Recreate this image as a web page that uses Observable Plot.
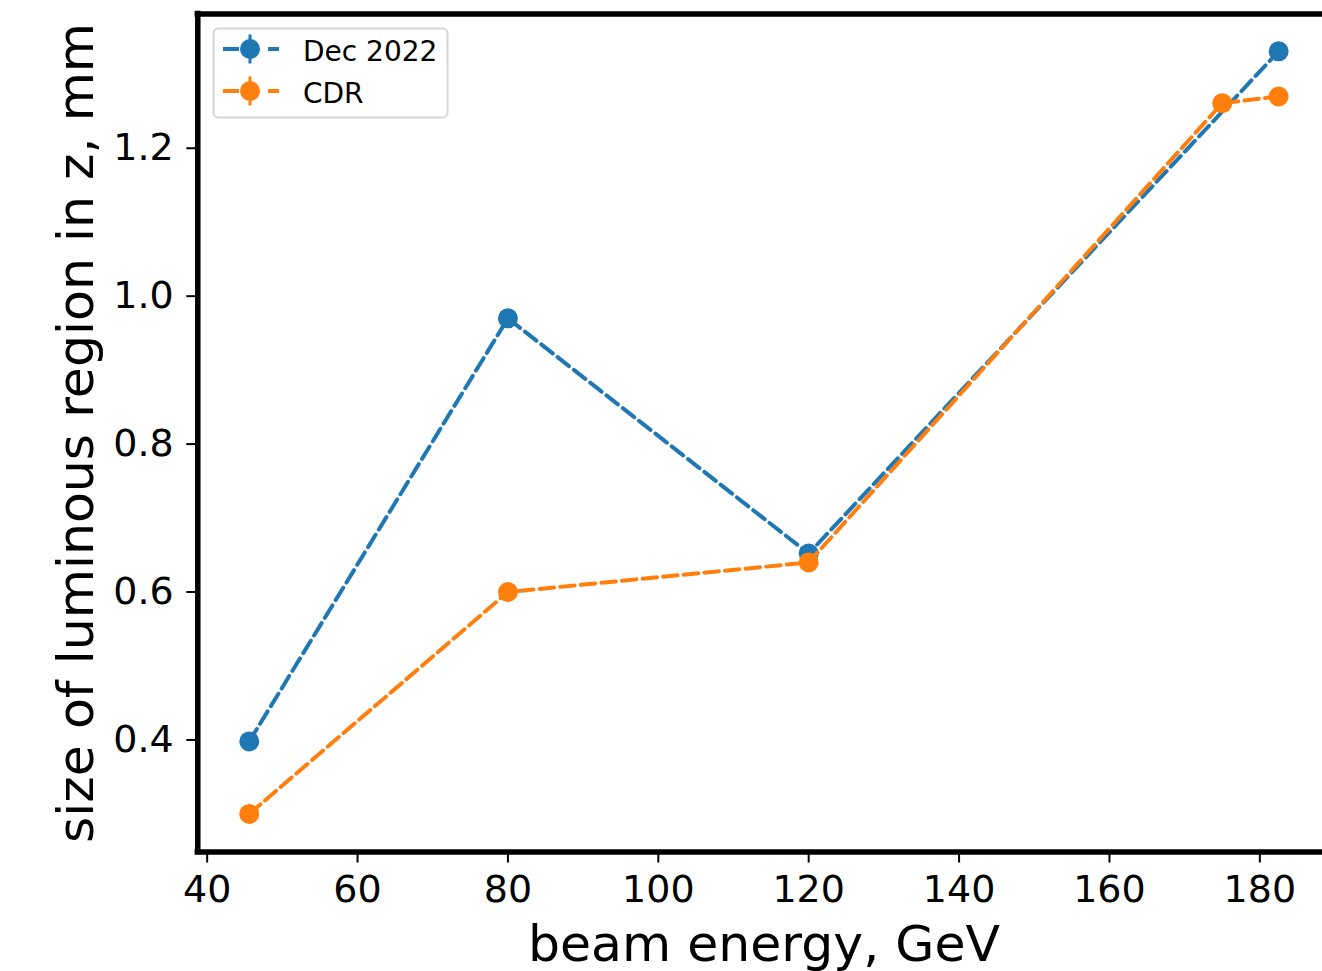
<!DOCTYPE html>
<html>
<head>
<meta charset="utf-8">
<script src="https://cdn.jsdelivr.net/npm/d3@7"></script>
<script src="https://cdn.jsdelivr.net/npm/@observablehq/plot@0.6"></script>
<style>
  html, body { margin: 0; padding: 0; background: #fff; }
  #wrap { position: relative; width: 1322px; height: 971px; overflow: hidden; font-family: "DejaVu Sans", sans-serif; }
  #legend { position: absolute; left: 0; top: 0; }
</style>
</head>
<body>
<div id="wrap"></div>
<script>
// ---- data ----
const energyDec = [45.6, 80, 120, 182.5];
const sizeDec   = [0.398, 0.970, 0.652, 1.331];
const energyCdr = [45.6, 80, 120, 175, 182.5];
const sizeCdr   = [0.300, 0.600, 0.640, 1.261, 1.270];
const seriesNames = ["Dec 2022", "CDR"];
const seriesColors = ["#1f77b4", "#ff7f0e"];
const xTicks = [40, 60, 80, 100, 120, 140, 160, 180];
const yTicks = [0.4, 0.6, 0.8, 1.0, 1.2];
const xLabel = "beam energy, GeV";
const yLabel = "size of luminous region in z, mm";

const dec = energyDec.map((e, i) => ({energy: e, size: sizeDec[i], series: seriesNames[0]}));
const cdr = energyCdr.map((e, i) => ({energy: e, size: sizeCdr[i], series: seriesNames[1]}));

const xDomain = [38.755, 189.345];
const yDomain = [0.2485, 1.3815];
const W = 1322, H = 971;
const mL = 197.3, mT = 13.5, mB = 119.5;
const dash = "14.5,6.2";
const lw = 4;

const chart = Plot.plot({
  width: W, height: H,
  marginLeft: mL, marginRight: 0, marginTop: mT, marginBottom: mB,
  style: {fontFamily: "DejaVu Sans, sans-serif", background: "white", color: "black"},
  x: {domain: xDomain, range: [mL, 1329.6]},
  y: {domain: yDomain},
  marks: [
    Plot.lineY(dec, {x: "energy", y: "size", stroke: seriesColors[0], strokeWidth: lw, strokeDasharray: dash}),
    Plot.dot(dec, {x: "energy", y: "size", r: 10, fill: seriesColors[0], stroke: null}),
    Plot.lineY(cdr, {x: "energy", y: "size", stroke: seriesColors[1], strokeWidth: lw, strokeDasharray: dash}),
    Plot.dot(cdr, {x: "energy", y: "size", r: 10, fill: seriesColors[1], stroke: null}),
    Plot.axisX({ticks: xTicks, tickSize: 11, tickPadding: 12, fontSize: 38, strokeWidth: 2, label: null, tickFormat: d3.format("d")}),
    Plot.axisY({ticks: yTicks, tickSize: 11, tickPadding: 13, fontSize: 38, strokeWidth: 2, label: null, tickFormat: d3.format(".1f")}),
    Plot.ruleY([yDomain[0], yDomain[1]], {stroke: "black", strokeWidth: 5.5, strokeLinecap: "square"}),
    Plot.ruleX([xDomain[0]], {stroke: "black", strokeWidth: 5.5, strokeLinecap: "square"}),
    Plot.text([xLabel], {x: () => (xDomain[0] + xDomain[1]) / 2, frameAnchor: "bottom", lineAnchor: "bottom", textAnchor: "middle", dy: 108.5, fontSize: 50.5, fill: "black"}),
    Plot.text([yLabel], {frameAnchor: "left", rotate: -90, lineAnchor: "bottom", textAnchor: "middle", dx: -105, fontSize: 50.5, fill: "black"})
  ]
});
document.getElementById("wrap").appendChild(chart);

// ---- legend ----
const leg = d3.select("#wrap").append("svg").attr("id", "legend").attr("width", W).attr("height", H);
leg.append("rect").attr("x", 213.5).attr("y", 28.5).attr("width", 234).attr("height", 89)
  .attr("rx", 5).attr("fill", "white").attr("fill-opacity", 0.8).attr("stroke", "#d6d6d6").attr("stroke-width", 2);
seriesNames.forEach((name, i) => {
  const cy = 49 + i * 42;
  const g = leg.append("g");
  g.append("line").attr("x1", 223).attr("x2", 279).attr("y1", cy).attr("y2", cy)
    .attr("stroke", seriesColors[i]).attr("stroke-width", lw).attr("stroke-dasharray", "16,29,11");
  g.append("line").attr("x1", 250).attr("x2", 250).attr("y1", cy - 14.5).attr("y2", cy + 14.5)
    .attr("stroke", seriesColors[i]).attr("stroke-width", 3);
  g.append("circle").attr("cx", 250).attr("cy", cy).attr("r", 10).attr("fill", seriesColors[i]);
  g.append("text").attr("x", 303).attr("y", cy + 11.5).attr("font-size", 28)
    .attr("font-family", "DejaVu Sans, sans-serif").attr("fill", "black").text(name);
});
</script>
</body>
</html>
